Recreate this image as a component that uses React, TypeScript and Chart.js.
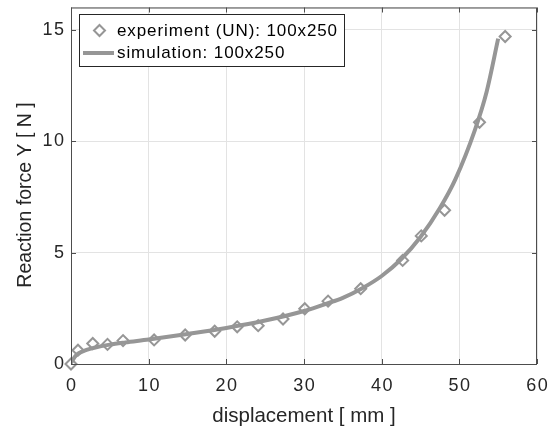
import React, { useEffect, useRef } from "react";
import { Chart, registerables } from "chart.js";

Chart.register(...registerables);

// Experiment (UN) 100x250
const expX = [0, 0.9, 2.8, 4.7, 6.7, 10.7, 14.7, 18.5, 21.4, 24.1, 27.3, 30.1, 33.1, 37.3, 42.7, 45.1, 48.1, 52.6, 55.9];
const expY = [0, 0.62, 0.92, 0.88, 1.05, 1.08, 1.3, 1.47, 1.67, 1.72, 2.02, 2.48, 2.82, 3.38, 4.65, 5.75, 6.9, 10.85, 14.7];

// Simulation 100x250
const simX = [0, 0.5, 1, 2, 3, 5, 7, 10, 15, 20, 25, 30, 33, 35, 37.5, 40, 42.5, 45, 47.5, 49.5, 52, 53.5, 55];
const simY = [0.05, 0.33, 0.48, 0.63, 0.73, 0.87, 0.97, 1.1, 1.35, 1.62, 1.95, 2.38, 2.72, 2.97, 3.4, 3.95, 4.7, 5.7, 7.0, 8.3, 10.5, 12.2, 14.6];

const xTicks = [0, 10, 20, 30, 40, 50, 60];
const yTicks = [0, 5, 10, 15];

const xTitle = "displacement [ mm ]";
const yTitle = "Reaction force Y [ N ]";
const legendLabels = ["experiment (UN): 100x250", "simulation: 100x250"];

const GRAY = "#969696";
const TEXT = "#262626";
const FONT = "'Liberation Sans', Arial, sans-serif";

const overlay = {
  id: "overlay",
  afterDraw(chart: any) {
    const ctx = chart.ctx as CanvasRenderingContext2D;
    const { left, right, top, bottom } = chart.chartArea;
    const xs = chart.scales.x;
    const ys = chart.scales.y;
    ctx.save();
    // axes box
    ctx.strokeStyle = "#4d4d4d";
    ctx.lineWidth = 1;
    ctx.strokeRect(left + 0.5, top + 0.5, right - left - 1, bottom - top);
    // inward ticks
    const tl = 5;
    ctx.beginPath();
    xTicks.forEach((v) => {
      const px = Math.round(xs.getPixelForValue(v)) + 0.5;
      ctx.moveTo(px, bottom);
      ctx.lineTo(px, bottom - tl);
      ctx.moveTo(px, top);
      ctx.lineTo(px, top + tl);
    });
    yTicks.forEach((v) => {
      const py = Math.round(ys.getPixelForValue(v)) + 0.5;
      ctx.moveTo(left, py);
      ctx.lineTo(left + tl, py);
      ctx.moveTo(right, py);
      ctx.lineTo(right - tl, py);
    });
    ctx.stroke();

    // tick labels
    ctx.fillStyle = TEXT;
    (ctx as any).letterSpacing = "1.5px";
    ctx.font = `18px ${FONT}`;
    ctx.textBaseline = "middle";
    ctx.textAlign = "center";
    xTicks.forEach((v) => {
      ctx.fillText(String(v), xs.getPixelForValue(v) + 0.75, 386);
    });
    ctx.textAlign = "right";
    yTicks.forEach((v) => {
      ctx.fillText(String(v), 65.5, ys.getPixelForValue(v));
    });

    // axis titles
    (ctx as any).letterSpacing = "0px";
    ctx.font = `20.5px ${FONT}`;
    ctx.textAlign = "center";
    ctx.fillText(xTitle, (left + right) / 2, 416);
    ctx.save();
    ctx.translate(26, 195);
    ctx.rotate(-Math.PI / 2);
    ctx.font = `19.5px ${FONT}`;
    ctx.fillText(yTitle, 0, 0);
    ctx.restore();

    // legend
    const lx = 79, ly = 14, lw = 266, lh = 53;
    ctx.fillStyle = "#ffffff";
    ctx.fillRect(lx, ly, lw, lh);
    ctx.strokeStyle = TEXT;
    ctx.lineWidth = 1;
    ctx.strokeRect(lx + 0.5, ly + 0.5, lw - 1, lh - 1);
    // diamond
    ctx.strokeStyle = GRAY;
    ctx.lineWidth = 2;
    const dx = 99.5, dy = 30.5, r = 5.5;
    ctx.beginPath();
    ctx.moveTo(dx, dy - r);
    ctx.lineTo(dx + r, dy);
    ctx.lineTo(dx, dy + r);
    ctx.lineTo(dx - r, dy);
    ctx.closePath();
    ctx.stroke();
    // line
    ctx.lineWidth = 4;
    ctx.beginPath();
    ctx.moveTo(83, 53);
    ctx.lineTo(114, 53);
    ctx.stroke();
    ctx.fillStyle = "#000000";
    ctx.font = `17px ${FONT}`;
    (ctx as any).letterSpacing = "0.9px";
    ctx.textAlign = "left";
    ctx.fillText(legendLabels[0], 117, 31.5);
    ctx.fillText(legendLabels[1], 117, 53.5);
    (ctx as any).letterSpacing = "0px";
    ctx.restore();
  },
};

export default function App() {
  const ref = useRef<HTMLCanvasElement | null>(null);
  useEffect(() => {
    const el = ref.current;
    if (!el) return;
    const chart = new Chart(el, {
      type: "line",
      data: {
        datasets: [
          {
            label: legendLabels[1],
            data: simX.map((x, i) => ({ x, y: simY[i] })),
            borderColor: GRAY,
            borderWidth: 4,
            pointRadius: 0,
            fill: false,
            cubicInterpolationMode: "monotone",
            order: 2,
          },
          {
            label: legendLabels[0],
            data: expX.map((x, i) => ({ x, y: expY[i] })),
            showLine: false,
            clip: false,
            pointStyle: "rectRot",
            pointRadius: 5.5,
            pointBorderWidth: 2,
            borderColor: GRAY,
            pointBorderColor: GRAY,
            pointBackgroundColor: "rgba(0,0,0,0)",
            backgroundColor: "rgba(0,0,0,0)",
            order: 1,
          },
        ],
      },
      options: {
        animation: false,
        responsive: false,
        devicePixelRatio: 1,
        layout: { padding: { left: 0, right: 19, top: 7, bottom: 0 } },
        plugins: { legend: { display: false }, tooltip: { enabled: false } },
        scales: {
          x: {
            type: "linear",
            min: 0,
            max: 60,
            ticks: { stepSize: 10, display: false },
            grid: { color: "#e3e3e3", drawTicks: false },
            border: { display: false },
            afterFit: (s: any) => {
              s.height = 68;
            },
          },
          y: {
            type: "linear",
            min: 0,
            max: 16,
            ticks: { stepSize: 5, display: false },
            grid: { color: "#e3e3e3", drawTicks: false },
            border: { display: false },
            afterFit: (s: any) => {
              s.width = 71;
            },
          },
        },
      },
      plugins: [overlay],
    });
    return () => chart.destroy();
  }, []);
  return (
    <div style={{ position: "absolute", left: 0, top: 0, width: 556, height: 432, background: "#fff" }}>
      <canvas ref={ref} width={556} height={432} />
    </div>
  );
}
